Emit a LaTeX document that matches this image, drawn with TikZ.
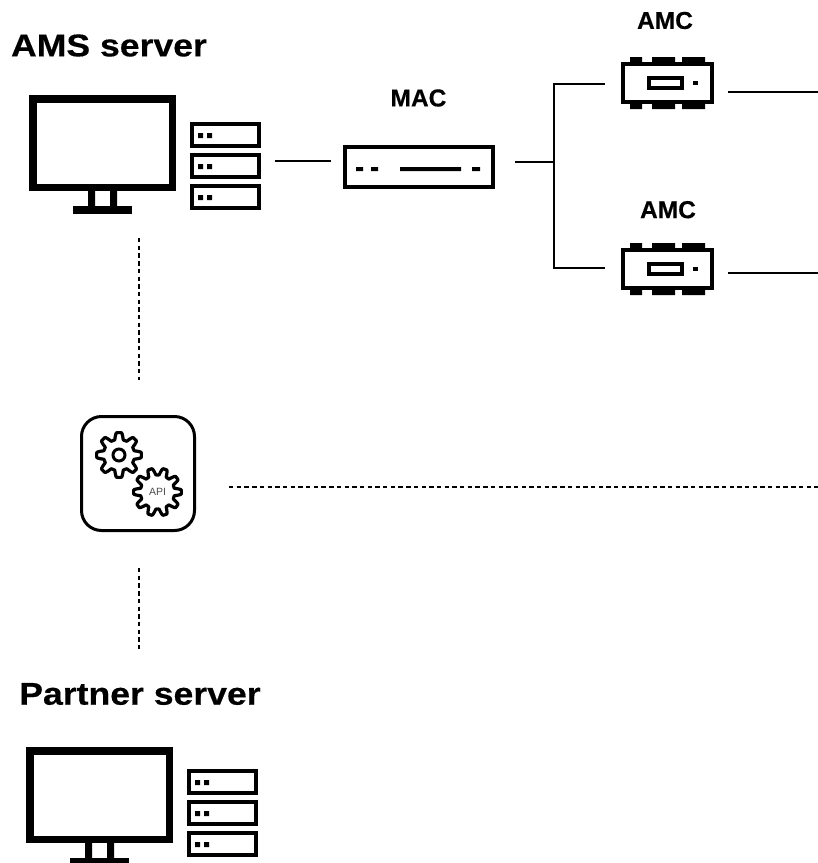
\documentclass[tikz,border=0pt]{standalone}
\usepackage{fontspec}
\setmainfont{Liberation Sans}
\newfontfamily\titlefont{Liberation Sans Bold}[FakeStretch=1.13,FakeBold=0.4]
\newfontfamily\labelfont{Liberation Sans Bold}[FakeBold=0.4]
\tikzset{
  x=1pt,y=-1pt,
  ink/.style={draw=black,line width=#1,fill=white},
  solidpart/.style={fill=black,draw=none},
  wire/.style={draw=black,line width=1.6pt},
  dotwire/.style={draw=black,line width=2.5pt,dash pattern=on 4.4pt off 3.3pt},
  title/.style={font=\titlefont\fontsize{31.5}{34}\selectfont,inner sep=0pt,anchor=center},
  devlabel/.style={font=\labelfont\fontsize{24.5}{28}\selectfont,inner sep=0pt,anchor=center,text=black},
  apilabel/.style={font=\fontsize{10.5}{12}\selectfont,inner sep=0pt,text=black!70},
  pics/monitoricon/.style={code={
    \draw[ink=7.5pt] (3.75,3.75) rectangle (143.25,92.25);
    \fill[solidpart] (59,96) rectangle (66,112) (81,96) rectangle (88,112);
    \fill[solidpart] (44,111) rectangle (103,119);
  }},
  pics/serverstack/.style={code={
    \foreach \yy in {0,31,62}{
      \draw[ink=4pt] (2,\yy+2) rectangle (69,\yy+24);
      \fill[solidpart] (8,\yy+11) rectangle (13,\yy+16) (17,\yy+11) rectangle (22,\yy+16);
    }
  }},
  pics/amcbox/.style={code={
    \fill[solidpart] (9,-5) rectangle (21,47) (31,-5) rectangle (54,47) (61,-5) rectangle (84,47);
    \draw[ink=4pt] (2,2) rectangle (91,40);
    \draw[ink=4pt,fill=white] (28,16) rectangle (61,26);
    \fill[solidpart] (72,19) rectangle (77,23);
  }}
}
\begin{document}
\begin{tikzpicture}
\useasboundingbox (0,0) rectangle (818,863);
\clip (0,0) rectangle (818,863);

% labels
\node[title] (amstitle) at (109,45.5) {AMS server};
\node[title] (partnertitle) at (140,694) {Partner server};
\node[devlabel] (maclabel) at (418.5,98) {MAC};
\node[devlabel] (amcalabel) at (665,20.5) {AMC};
\node[devlabel] (amcblabel) at (668,209.7) {AMC};

% server icons
\pic at (29,95) {monitoricon};
\pic at (190,122) {serverstack};
\pic at (26,747) {monitoricon};
\pic at (187,769) {serverstack};

% MAC
\draw[ink=4pt] (345,147) rectangle (493,187);
\fill[solidpart] (356,167) rectangle (363,171) (371,167) rectangle (378,171)
  (400,167) rectangle (461,171) (472,167) rectangle (480,171);

% AMCs
\pic at (621,62) {amcbox};
\pic at (621,248) {amcbox};

% API icon
\draw[draw=black,line width=3pt,rounded corners=20pt] (81.5,416.5) rectangle (194.5,530.5);
\draw[draw=black,line width=3.2pt,line join=round,shift={(119,455)}]
  plot[samples=193,domain=0:360] ({\x}:{19+3.4*max(-1,min(1,1.7*cos(8*\x)))}) -- cycle;
\draw[draw=black,line width=3pt] (119,455) circle (6);
\draw[draw=black,line width=3.2pt,line join=round,shift={(157.5,492)}]
  plot[samples=241,domain=0:360] ({\x}:{20.5+3.4*max(-1,min(1,1.7*cos(10*\x)))}) -- cycle;
\node[apilabel] (apitext) at (157.5,492) {API};

% connector end points
\coordinate (srvout) at (275,161);
\coordinate (macin) at (331,161);
\coordinate (macout) at (515,162);
\coordinate (junction) at (554,162);
\coordinate (amcain) at (605,84);
\coordinate (amcbin) at (605,268);
\coordinate (amcaout) at (728,92);
\coordinate (amcaend) at (818,92);
\coordinate (amcbout) at (728,273);
\coordinate (amcbend) at (818,273);
\coordinate (amsdown) at (139,238);
\coordinate (apiup) at (139,380);
\coordinate (apiright) at (229,487);
\coordinate (apiend) at (818,487);
\coordinate (apidown) at (139,568);
\coordinate (partnerup) at (139,650);

% connectors
\draw[wire] (srvout) -- (macin);
\draw[wire] (macout) -- (junction);
\draw[wire] (amcain) -| (junction) |- (amcbin);
\draw[wire] (amcaout) -- (amcaend);
\draw[wire] (amcbout) -- (amcbend);
\draw[dotwire] (amsdown) -- (apiup);
\draw[dotwire] (apiright) -- (apiend);
\draw[dotwire] (apidown) -- (partnerup);
\end{tikzpicture}
\end{document}
